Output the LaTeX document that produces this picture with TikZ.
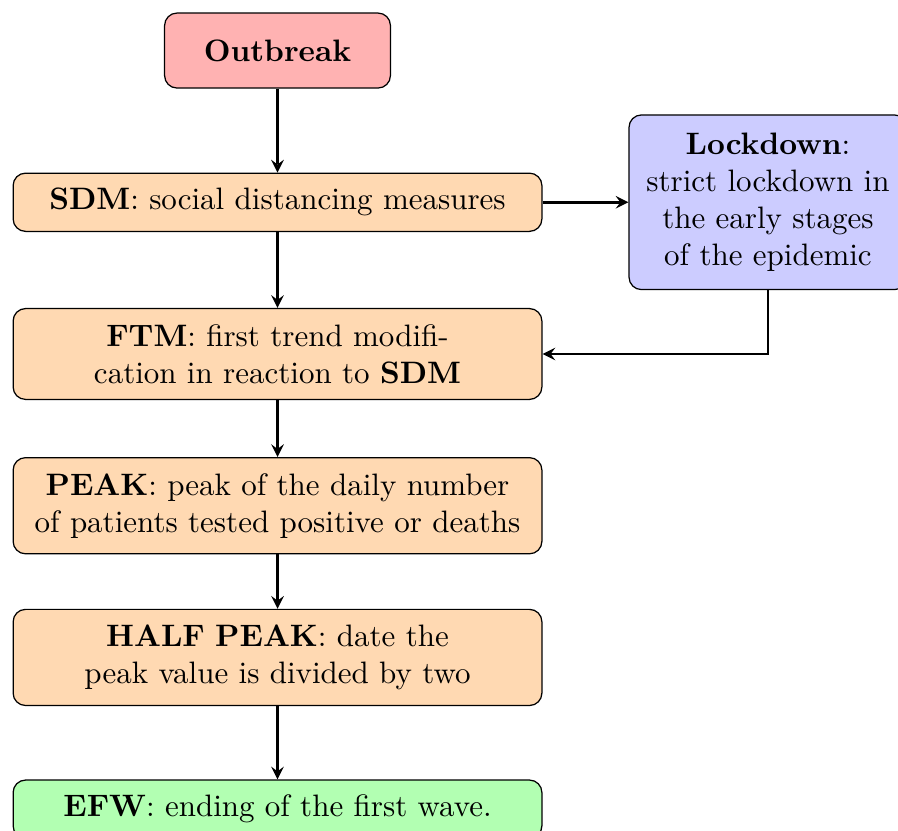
\documentclass[tikz,border=0pt]{standalone}
\usepackage{tikz}
\usetikzlibrary{shapes.geometric}
\usetikzlibrary{arrows}
\usetikzlibrary{positioning}

\begin{document}
\begin{tikzpicture}
	[node distance={1.72cm}, >=stealth,
	block/.style = {draw, rectangle, rounded corners, fill=orange!30, text width=5.76cm, align=center},
	start/.style = {draw, rectangle, rounded corners, fill=red!30, minimum width=2.56cm, minimum height=0.85cm},
	side/.style = {draw, rectangle, rounded corners, fill=blue!20, text width=2.82cm, align=center, minimum width=3.15cm, minimum height=1.98cm},
	stop/.style = {draw, rectangle, rounded corners, fill=green!30, text width=5.76cm, align=center, minimum height=0.66cm},
	line/.style = {draw, thick, ->}]
	\useasboundingbox (0,0) rectangle (10.18,-9.41);
	\node[start] (outbreak) at (3.146,-0.573) {\textbf{Outbreak}};
	\node[block, minimum height=0.66cm] (sdm) [below of = outbreak] {\textbf{SDM}: social distancing measures};
	\node[block, minimum height=1.03cm] (ftm) [below of = sdm] {\textbf{FTM}: first trend modification in reaction to \textbf{SDM}};
	\node[block, minimum height=1.09cm] (peak) [below of = ftm] {\textbf{PEAK}: peak of the daily number of patients tested positive or deaths};
	\node[block, minimum height=1.09cm] (half) [below of = peak] {\textbf{HALF PEAK}: date the peak value is divided by two};
	\node[stop] (efw) [below of = half] {\textbf{EFW}: ending of the first wave.};
	\node[side] (lock) [right of = sdm, node distance={5.56cm}] {\textbf{Lockdown}: strict lockdown in the early stages of the epidemic};
	\path[line] (outbreak) -- (sdm);
	\path[line] (sdm) -- (ftm);
	\path[line] (ftm) -- (peak);
	\path[line] (peak) -- (half);
	\path[line] (half) -- (efw);
	\path[line] (sdm) -- (lock);
	\path[line] (lock) |- (ftm);
\end{tikzpicture}
\end{document}
